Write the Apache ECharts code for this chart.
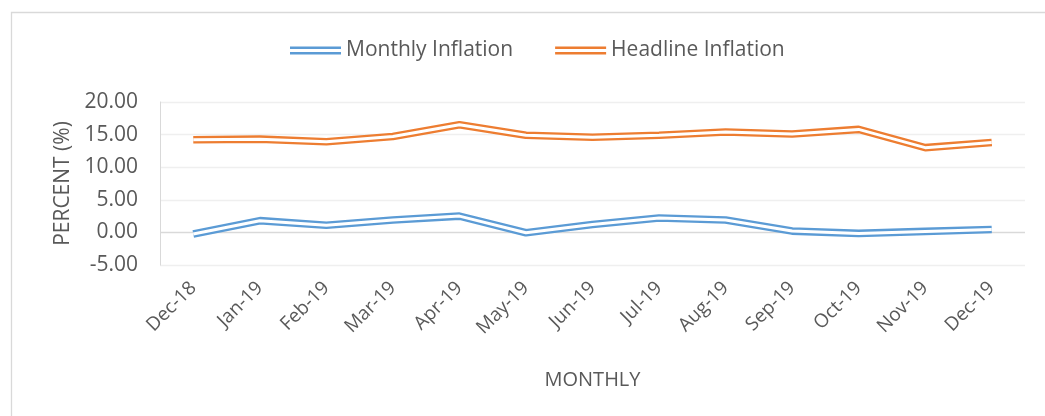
<!DOCTYPE html>
<html>
<head>
<meta charset="utf-8">
<script src="https://cdn.jsdelivr.net/npm/echarts@6/dist/echarts.min.js"></script>
<style>
  html, body { margin: 0; padding: 0; background: #fff; }
  #chart { width: 1045px; height: 416px; }
</style>
</head>
<body>
<div id="chart"></div>
<script>
var months = ["Dec-18", "Jan-19", "Feb-19", "Mar-19", "Apr-19", "May-19", "Jun-19",
  "Jul-19", "Aug-19", "Sep-19", "Oct-19", "Nov-19", "Dec-19"];
var monthly = [-0.25, 1.8, 1.1, 1.9, 2.5, -0.05, 1.2, 2.2, 1.9, 0.2, -0.15, 0.15, 0.45];
var headline = [14.2, 14.3, 13.9, 14.7, 16.5, 14.9, 14.6, 14.9, 15.4, 15.1, 15.8, 13.0, 13.8];

var textColor = "#595959";
var font = "'Open Sans', sans-serif";
var blue = "#5b9bd5";
var orange = "#ed7d31";
var doubleIcon = "path://M0,0H50V2.4H0Z M0,5.2H50V7.6H0Z";

// excel "double" line: thick coloured stroke with a thin white stroke on top
function doubleLine(name, data, color, z) {
  return [{
    name: name,
    type: "line",
    data: data,
    symbol: "none",
    z: z,
    lineStyle: { color: color, width: 7.6 },
    itemStyle: { color: color }
  }, {
    name: name,
    type: "line",
    data: data,
    symbol: "none",
    z: z + 1,
    silent: true,
    lineStyle: { color: "#fff", width: 3 },
    itemStyle: { color: color }
  }];
}

var option = {
  animation: false,
  graphic: [{
    type: "rect",
    shape: { x: 11.5, y: 12.5, width: 1100, height: 500 },
    style: { fill: "none", stroke: "#d9d9d9", lineWidth: 1.3 },
    silent: true
  }],
  legend: {
    left: 285,
    top: 35,
    itemWidth: 51,
    itemHeight: 8,
    itemGap: 42,
    textStyle: { color: textColor, fontSize: 21, fontFamily: font },
    data: [
      { name: "Monthly Inflation", icon: doubleIcon, itemStyle: { color: blue } },
      { name: "Headline Inflation", icon: doubleIcon, itemStyle: { color: orange } }
    ]
  },
  grid: { left: 160, right: 20, top: 102, bottom: 151 },
  xAxis: {
    type: "category",
    data: months,
    name: "MONTHLY",
    nameLocation: "middle",
    nameGap: 105,
    nameTextStyle: { color: textColor, fontSize: 20, fontFamily: font, verticalAlign: "top" },
    axisLine: { show: false },
    axisTick: { show: false },
    axisLabel: { rotate: 45, margin: 20, color: textColor, fontSize: 19, fontFamily: font }
  },
  yAxis: {
    type: "value",
    min: -5,
    max: 20,
    interval: 5,
    name: "PERCENT (%)",
    nameLocation: "middle",
    nameGap: 82,
    nameTextStyle: { color: textColor, fontSize: 21, fontFamily: font },
    axisLine: { show: true, lineStyle: { color: "#d9d9d9" } },
    axisTick: { show: false },
    axisLabel: {
      margin: 22, color: textColor, fontSize: 21, fontFamily: font,
      formatter: function (v) { return v.toFixed(2); }
    },
    splitLine: {
      lineStyle: { color: ["#efefef", "#d9d9d9", "#efefef", "#efefef", "#efefef", "#efefef"], width: 1.3 }
    }
  },
  series: [].concat(
    doubleLine("Headline Inflation", headline, orange, 2),
    doubleLine("Monthly Inflation", monthly, blue, 4)
  )
};

var chart = echarts.init(document.getElementById("chart"));
chart.setOption(option);
</script>
</body>
</html>
